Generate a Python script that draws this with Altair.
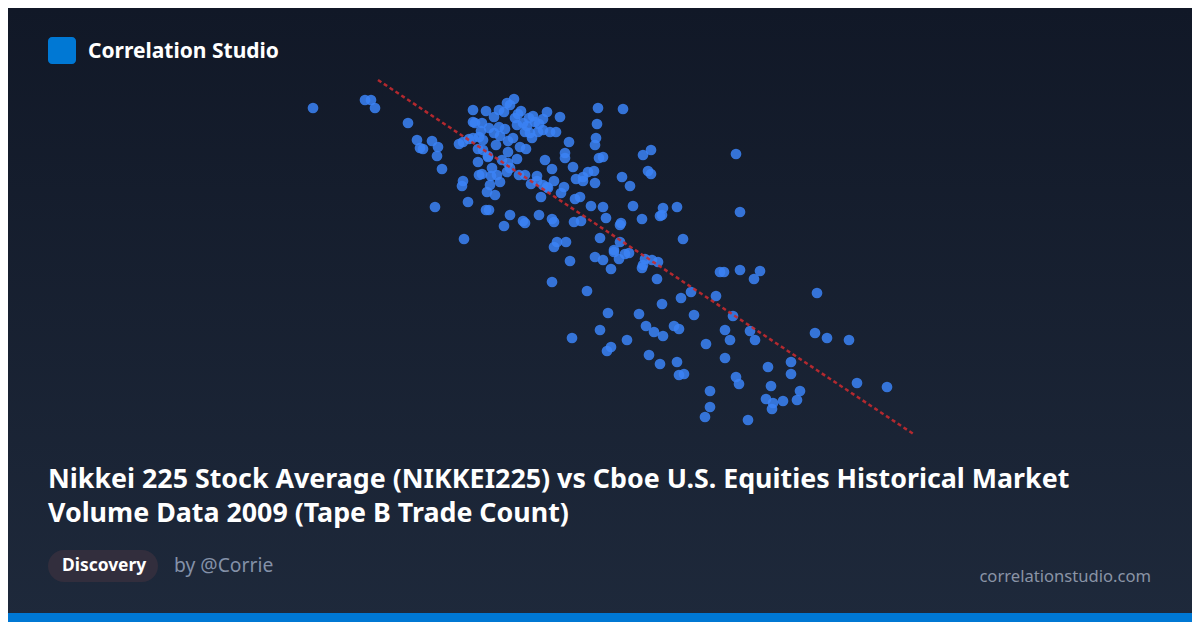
import altair as alt
import pandas as pd

# Scatter values (horizontal = NIKKEI225 position, vertical = trade count position)
x_vals = [313, 365, 371, 375, 408, 417, 420, 423, 432, 438, 437, 442, 435, 463, 462, 468, 464,
          473, 486, 494, 499, 507, 510, 514, 504, 518, 521, 529, 535, 539, 543, 547, 560,
          473, 475, 482,
          459, 463, 469, 473, 479, 481, 483,
          478, 483, 488,
          494, 500, 499, 505,
          517, 523, 525, 530, 532, 538, 543, 550, 556,
          508, 513, 520, 526, 508,
          478, 488, 517,
          508, 510, 507,
          492, 497, 500, 479, 482, 490, 487, 495,
          519, 525, 531, 537, 537, 543, 548, 554, 547, 561, 564, 541,
          569, 565, 565, 573, 545, 552,
          576, 583, 588, 594, 583, 595,
          575, 580, 591, 603, 606, 633, 642, 621, 620, 600, 620,
          598, 623, 597, 596, 595, 599, 603, 622, 630, 643, 651, 648, 651,
          486, 489, 510, 504, 523, 525, 539, 552, 554, 574, 581,
          557, 566, 554, 614,
          740, 683, 677, 663, 660, 662,
          595, 603, 611, 614, 619, 625, 629,
          570, 552, 587,
          642, 643, 645, 652, 658, 657,
          720, 724, 740, 760, 754,
          691, 681, 662, 716, 817,
          733, 694, 639, 608,
          646, 654, 663, 674, 679,
          725, 730, 750, 755,
          572, 600, 627, 611, 607,
          649, 660, 677, 679, 684,
          706, 725,
          815, 827, 849,
          768, 791, 791, 736, 739, 771,
          710, 710, 705, 748,
          766, 773, 772, 783, 797, 800,
          857, 887, 736,
          489, 496, 515, 527, 533, 491, 502]
y_vals = [108, 100, 100, 108, 123, 140, 148, 149, 141, 147, 156, 169, 207, 181, 186, 202, 239,
          110, 111, 117, 110, 103, 105, 99, 112, 114, 111, 118, 122, 124, 119, 112, 117,
          122, 123, 123,
          144, 142, 139, 138, 137, 131, 140,
          149, 150, 156,
          133, 136, 127, 129,
          125, 123, 132, 133, 138, 132, 130, 132, 132,
          141, 138, 147, 149, 152,
          162, 157, 159,
          163, 168, 172,
          168, 175, 182, 175, 174, 185, 192, 195,
          175, 175, 184, 176, 181, 185, 188, 181, 187, 193, 187, 197,
          142, 153, 158, 167, 160, 169,
          179, 177, 172, 171, 181, 183,
          199, 197, 206, 207, 218, 206, 219, 223, 225, 238, 242,
          108, 109, 124, 138, 145, 158, 157, 177, 186, 155, 150, 171, 174,
          210, 210, 215, 226, 221, 223, 215, 219, 222, 222, 221,
          242, 242, 247, 250,
          212, 239, 207, 208, 216, 215,
          257, 260, 269, 252, 259, 254, 253,
          261, 282, 291,
          268, 265, 259, 260, 262, 279,
          272, 272, 270, 271, 279,
          292, 298, 304, 296, 293,
          316, 315, 314, 313,
          326, 332, 336, 326, 329,
          330, 340, 331, 340,
          338, 330, 340, 347, 351,
          355, 364, 362, 375, 374,
          344, 358,
          333, 338, 340,
          367, 362, 374, 377, 384, 386,
          391, 407, 417, 420,
          399, 403, 409, 401, 400, 391,
          383, 387, 154,
          128, 145, 118, 126, 116, 176, 160]

trend_x = [378, 915]
trend_y = [80, 435]

brand = ["Correlation Studio"]
title_lines = ["Nikkei 225 Stock Average (NIKKEI225) vs Cboe U.S. Equities Historical Market",
               "Volume Data 2009 (Tape B Trade Count)"]
tag = ["Discovery"]
author = ["by @Corrie"]
site = ["correlationstudio.com"]

W, H = 1184, 614
OFF = 8

pts = pd.DataFrame({"x": x_vals, "y": y_vals})
trend = pd.DataFrame({"x": trend_x, "y": trend_y})

xscale = alt.Scale(domain=[OFF, OFF + W], nice=False, zero=False)
yscale = alt.Scale(domain=[OFF, OFF + H], nice=False, zero=False, reverse=True)
X = alt.X("x:Q", scale=xscale, axis=None)
Y = alt.Y("y:Q", scale=yscale, axis=None)

one = alt.Data(values=[{"k": 1}])

bg = alt.Chart(one).mark_rect(
    fill=alt.Gradient(gradient="linear",
                      stops=[alt.GradientStop(color="#111827", offset=0),
                             alt.GradientStop(color="#1e293b", offset=1)],
                      x1=0, x2=0, y1=0, y2=1)
).encode(x=alt.value(0), x2=alt.value(W), y=alt.value(0), y2=alt.value(H))

points = alt.Chart(pts).mark_circle(size=115, color="#3b82f6", opacity=0.85).encode(x=X, y=Y)

line = alt.Chart(trend).mark_line(color="#c42a2f", strokeDash=[4, 3], strokeWidth=2.5, opacity=0.9).encode(x=X, y=Y)

logo = alt.Chart(one).mark_rect(color="#0078d4", cornerRadius=4).encode(
    x=alt.value(40), x2=alt.value(68), y=alt.value(29), y2=alt.value(56))

FONT = "Noto Sans"

def txt(values, x, y, size, color, weight="normal", align="left"):
    return alt.Chart(alt.Data(values=[{"t": v} for v in values])).mark_text(
        font=FONT, fontSize=size, fontWeight=weight, color=color, align=align, baseline="middle"
    ).encode(text="t:N", x=alt.value(x), y=alt.value(y))

brand_t = txt(brand, 80, 43.5, 21, "#ffffff", "bold")
title1 = txt([title_lines[0]], 40, 471.5, 26.8, "#ffffff", "bold")
title2 = txt([title_lines[1]], 40, 505.5, 26.8, "#ffffff", "bold")

pill = alt.Chart(one).mark_rect(color="#322e3d", cornerRadius=16).encode(
    x=alt.value(40), x2=alt.value(150), y=alt.value(542), y2=alt.value(574))
tag_t = txt(tag, 54, 558, 17.4, "#ffffff", "bold")
author_t = txt(author, 166, 558, 19.3, "#8491a8")
site_t = txt(site, 1143, 569, 16.6, "#8a94a6", align="right")

bar = alt.Chart(one).mark_rect(color="#0078d4").encode(
    x=alt.value(0), x2=alt.value(W), y=alt.value(605), y2=alt.value(H))

chart = alt.layer(
    bg, points, line, logo, brand_t, title1, title2, pill, tag_t, author_t, site_t, bar
).properties(
    width=W, height=H, padding=0, autosize=alt.AutoSizeParams(type="none"), background="#111827"
).configure_view(stroke=None)

chart.save("out.html", embed_options={"renderer": "svg", "actions": False})
